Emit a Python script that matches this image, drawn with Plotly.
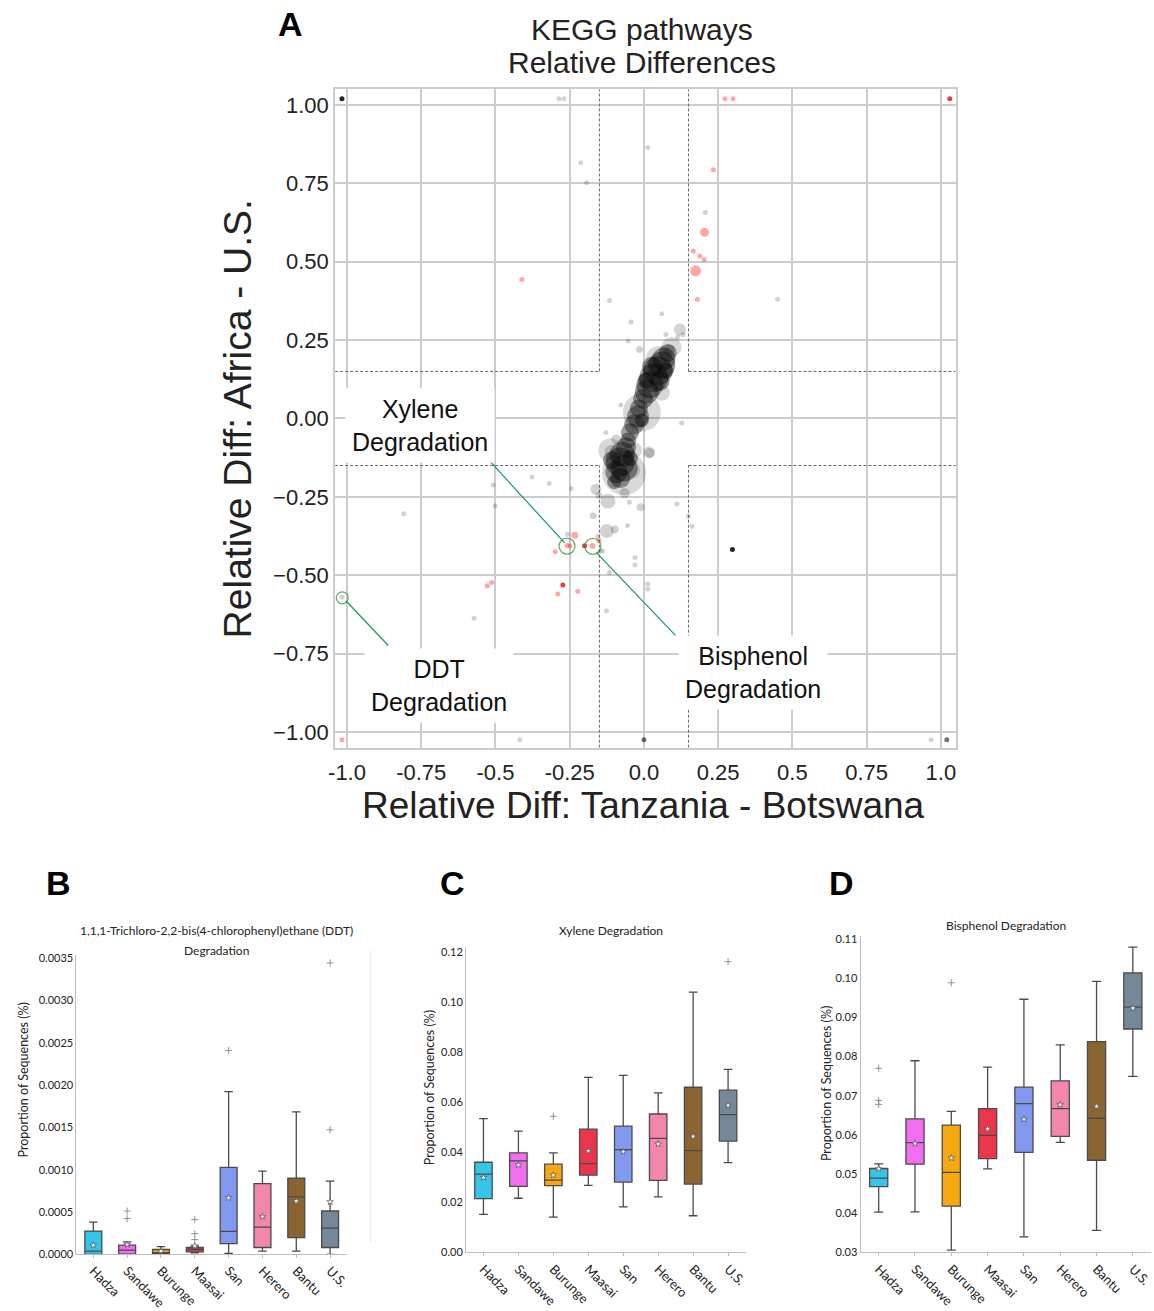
import plotly.graph_objects as go

# ---------------- Panel A data (KEGG pathways relative differences) ----------------
# dense core of pathways (translucent black)
core_x = [0.080, 0.067, 0.060, 0.047, 0.033, 0.020, 0.010, -0.003, 0.053, 0.027, 0.073, 0.007,
          -0.017, -0.020, -0.033, -0.047, -0.053, -0.007,
          -0.060, -0.073, -0.080, -0.067, -0.093, -0.080, -0.107, -0.047, -0.100]
core_y = [0.209, 0.190, 0.171, 0.152, 0.130, 0.108, 0.085, 0.063, 0.120, 0.165, 0.152, 0.120,
          0.032, 0.006, -0.019, -0.044, -0.070, -0.006,
          -0.092, -0.114, -0.139, -0.158, -0.171, -0.190, -0.133, -0.127, -0.203]
core_s = [18, 23, 27, 29, 29, 27, 24, 20, 20, 20, 16, 16,
          18, 22, 20, 18, 16, 14,
          20, 25, 29, 27, 22, 20, 18, 16, 14]

# lighter halo bubbles around the core
halo_x = [0.093, -0.007, -0.067, -0.113, 0.060, -0.033, 0.017, -0.040, 0.050]
halo_y = [0.228, 0.019, -0.174, -0.101, 0.082, -0.101, -0.108, -0.165, 0.190]
halo_s = [20, 38, 44, 24, 16, 16, 12, 16, 26]

# non-significant pathways (grey)
grey_x = [-0.286, -0.269, -0.213, -0.193, 0.013, 0.207, 0.450, -0.116, -0.043, 0.060, -0.053, -0.015,
          0.074, 0.121, 0.114, 0.132, 0.086, -0.078, 0.127, -0.128, -0.093, 0.019, -0.109,
          -0.377, -0.508, -0.319, -0.245, -0.501, -0.162, -0.151, -0.121, -0.065, -0.049, -0.011,
          0.111, 0.150, 0.162, -0.171, -0.055, -0.125, -0.098, -0.257, -0.155, -0.139, -0.148,
          -0.030, -0.030, -0.116, 0.013, 0.013, -0.126, -0.572, -0.809, -1.017, -0.418, 0.967]
grey_y = [1.020, 1.020, 0.816, 0.752, 0.864, 0.657, 0.380, 0.376, 0.308, 0.334, 0.247, 0.220,
          0.268, 0.284, 0.260, 0.267, 0.220, 0.043, -0.014, -0.045, -0.067, -0.110, -0.107,
          -0.187, -0.212, -0.207, -0.223, -0.279, -0.226, -0.246, -0.264, -0.238, -0.267, -0.283,
          -0.273, -0.312, -0.344, -0.310, -0.341, -0.359, -0.354, -0.369, -0.376, -0.423, -0.423,
          -0.443, -0.467, -0.491, -0.528, -0.544, -0.613, -0.637, -0.304, -0.570, -1.025, -1.025]
grey_s = [5, 5, 5, 5, 5, 5, 5, 5, 5, 5, 5, 7,
          5, 12, 5, 5, 10, 5, 5, 5, 10, 10, 14,
          5, 5, 5, 5, 5, 11, 7, 15, 10, 5, 8,
          5, 5, 5, 7, 5, 14, 8, 5, 5, 5, 5,
          5, 5, 5, 5, 5, 5, 5, 5, 5, 5, 5]

dgrey_x = [0.000, 1.020]
dgrey_y = [-1.025, -1.025]

black_x = [-1.017, 0.298]
black_y = [1.020, -0.418]

# significant pathways (red)
red_x = [0.273, 0.300, 0.234, 0.204, 0.166, 0.188, 0.203, 0.174, 0.180, -0.411, -0.233, -0.151,
         -0.259, -0.249, -0.173, -0.299, -0.513, -0.528, -0.290, -0.223, -1.017]
red_y = [1.020, 1.020, 0.793, 0.594, 0.534, 0.518, 0.507, 0.471, 0.380, 0.443, -0.372, -0.390,
         -0.405, -0.407, -0.407, -0.425, -0.523, -0.534, -0.560, -0.551, -1.025]
red_s = [5, 5, 5, 9, 5, 5, 5, 11, 5, 5, 7, 5,
         5, 5, 6, 5, 5, 5, 5, 5, 5]

dred_x = [1.030, -0.200, -0.273]
dred_y = [1.020, -0.406, -0.531]

# highlighted pathways
hl_names = ["Xylene<br>Degradation", "Bisphenol<br>Degradation", "DDT<br>Degradation"]
hl_x = [-0.259, -0.172, -1.016]
hl_y = [-0.407, -0.408, -0.572]
hl_ring = [16, 16, 12]
label_x = [-0.755, 0.367, -0.690]
label_y = [-0.022, -0.810, -0.851]
leader_x0 = [-0.520, -0.160, -1.003]
leader_y0 = [-0.135, -0.428, -0.582]
leader_x1 = [-0.267, 0.106, -0.861]
leader_y1 = [-0.397, -0.692, -0.724]

threshold = 0.15
a_ticks = [-1.0, -0.75, -0.5, -0.25, 0.0, 0.25, 0.5, 0.75, 1.0]
a_xticktext = ["-1.0", "-0.75", "-0.5", "-0.25", "0.0", "0.25", "0.5", "0.75", "1.0"]
a_yticktext = ["\u22121.00", "\u22120.75", "\u22120.50", "\u22120.25", "0.00", "0.25", "0.50", "0.75", "1.00"]

# ---------------- Panels B-D data (box plots) ----------------
groups = ["Hadza", "Sandawe", "Burunge", "Maasai", "San", "Herero", "Bantu", "U.S."]
group_colors = ["#36C5E9", "#F36DF1", "#F7A710", "#E9364B", "#8199EF", "#F286AD", "#8A6532", "#778899"]

ddt_q1 = [0.0, 0.000004, 0.000004, 0.000031, 0.000128, 0.000082, 0.000198, 0.000082]
ddt_med = [0.000039, 0.00005, 0.00002, 0.000058, 0.000272, 0.000323, 0.000681, 0.000311]
ddt_q3 = [0.000276, 0.000109, 0.000058, 0.000082, 0.00103, 0.000836, 0.000902, 0.000513]
ddt_lo = [0.0, 0.0, 0.0, 0.00002, 0.000012, 0.000039, 0.000039, 0.0]
ddt_hi = [0.000381, 0.000148, 0.000093, 0.0001, 0.001925, 0.000984, 0.001684, 0.000867]
ddt_mean = [0.000109, 0.000117, 0.00004, 0.000100, 0.000669, 0.000447, 0.00063, 0.000622]
ddt_out_g = ["Sandawe", "Sandawe", "Maasai", "Maasai", "Maasai", "San", "U.S.", "U.S."]
ddt_out_v = [0.000513, 0.000424, 0.000412, 0.000245, 0.000175, 0.002411, 0.001474, 0.003446]

xyl_q1 = [0.0215, 0.02637, 0.02664, 0.03086, 0.02809, 0.02875, 0.0273, 0.04444]
xyl_med = [0.03125, 0.03653, 0.02888, 0.03547, 0.04101, 0.04549, 0.04062, 0.05499]
xyl_q3 = [0.036, 0.0397, 0.03521, 0.04919, 0.05037, 0.05525, 0.06593, 0.06475]
xyl_lo = [0.01516, 0.02163, 0.01411, 0.02677, 0.0182, 0.02215, 0.01464, 0.03587]
xyl_hi = [0.0534, 0.0484, 0.0397, 0.06989, 0.07068, 0.06369, 0.1039, 0.07305]
xyl_mean = [0.0299, 0.0349, 0.03086, 0.04048, 0.04022, 0.04325, 0.04629, 0.05868]
xyl_out_g = ["Burunge", "U.S."]
xyl_out_v = [0.05433, 0.11604]

bis_q1 = [0.04678, 0.05251, 0.0418, 0.05395, 0.05555, 0.0596, 0.05352, 0.087]
bis_med = [0.04897, 0.058, 0.0504, 0.05985, 0.06794, 0.06668, 0.06423, 0.09256]
bis_q3 = [0.05142, 0.06406, 0.06246, 0.06668, 0.07216, 0.07376, 0.08379, 0.10133]
bis_lo = [0.04029, 0.04037, 0.03059, 0.05133, 0.03396, 0.05808, 0.03565, 0.07494]
bis_hi = [0.0526, 0.0789, 0.066, 0.0773, 0.09459, 0.08295, 0.09914, 0.10791]
bis_mean = [0.05133, 0.05782, 0.05411, 0.06153, 0.06398, 0.06769, 0.06727, 0.09231]
bis_out_g = ["Hadza", "Hadza", "Hadza", "Burunge"]
bis_out_v = [0.07696, 0.06879, 0.06777, 0.0988]

# ---------------- Figure ----------------
FONT_A = "Liberation Sans, Arial, sans-serif"
FONT_B = "Lato, Open Sans, sans-serif"

fig = go.Figure()

def sc(x, y, s, color):
    fig.add_trace(go.Scatter(x=x, y=y, mode="markers", xaxis="x", yaxis="y", hoverinfo="skip",
                             marker=dict(size=s, color=color, line=dict(width=0))))

sc(halo_x, halo_y, halo_s, "rgba(0,0,0,0.22)")
sc(core_x, core_y, core_s, "rgba(0,0,0,0.55)")
sc(grey_x, grey_y, grey_s, "rgba(0,0,0,0.25)")
sc(dgrey_x, dgrey_y, 5, "rgba(0,0,0,0.55)")
sc(black_x, black_y, 5, "rgba(0,0,0,0.85)")
sc(red_x, red_y, red_s, "rgba(255,0,0,0.5)")
sc(dred_x, dred_y, 5, "rgba(215,0,0,0.75)")
fig.add_trace(go.Scatter(x=hl_x, y=hl_y, mode="markers", xaxis="x", yaxis="y", hoverinfo="skip",
                         marker=dict(symbol="circle-open", size=hl_ring, color="#2a8a2a",
                                     line=dict(width=1.3, color="#2a8a2a"))))

shapes = []
dash_style = dict(color="#666666", width=1, dash="3px,2px")
segs = [(-threshold, threshold, -threshold, 1.05), (threshold, threshold, threshold, 1.05),
        (-1.04, threshold, -threshold, threshold), (threshold, threshold, 1.05, threshold),
        (-1.04, -threshold, -threshold, -threshold), (threshold, -threshold, 1.05, -threshold),
        (-threshold, -1.05, -threshold, -threshold), (threshold, -1.05, threshold, -threshold)]
for x0, y0, x1, y1 in segs:
    shapes.append(dict(type="line", xref="x", yref="y", x0=x0, y0=y0, x1=x1, y1=y1,
                       line=dash_style, layer="between"))
for i in range(len(hl_x)):
    shapes.append(dict(type="line", xref="x", yref="y", x0=leader_x0[i], y0=leader_y0[i],
                       x1=leader_x1[i], y1=leader_y1[i], line=dict(color="#169a5c", width=1.2)))
# faint frame line right of panel B
shapes.append(dict(type="line", xref="paper", yref="paper", x0=0.318, x1=0.318, y0=0.048, y1=0.2716,
                   line=dict(color="#e3e3e3", width=1)))

annotations = []
for i in range(len(hl_x)):
    annotations.append(dict(x=label_x[i], y=label_y[i], xref="x", yref="y", text=hl_names[i],
                            showarrow=False, bgcolor="white", borderpad=6,
                            font=dict(family=FONT_A, size=25, color="#111")))

def pa(text, x, y, size, family=FONT_A, bold=False, angle=0, color="#111"):
    annotations.append(dict(x=x, y=y, xref="paper", yref="paper", text=("<b>%s</b>" % text) if bold else text,
                            showarrow=False, textangle=angle, xanchor="center", yanchor="middle",
                            font=dict(family=family, size=size, color=color)))

pa("KEGG pathways", 0.5555, 0.9801, 30, color="#222")
pa("Relative Differences", 0.5555, 0.9549, 30, color="#222")
pa("Relative Diff: Tanzania - Botswana", 0.5563, 0.3837, 37, color="#222")
pa("Relative Diff: Africa - U.S.", 0.2010, 0.6812, 39, angle=-90, color="#222")
pa("A", 0.2478, 0.9847, 34, family="Liberation Sans, Arial", bold=True, color="#000")
pa("B", 0.0451, 0.3242, 34, family="Liberation Sans, Arial", bold=True, color="#000")
pa("C", 0.3891, 0.3242, 34, family="Liberation Sans, Arial", bold=True, color="#000")
pa("D", 0.7296, 0.3242, 34, family="Liberation Sans, Arial", bold=True, color="#000")

pa("1,1,1-Trichloro-2,2-bis(4-chlorophenyl)ethane (DDT)", 0.1828, 0.2876, 12, family=FONT_B, color="#222")
pa("Degradation", 0.1828, 0.2723, 12, family=FONT_B, color="#222")
pa("Xylene Degradation", 0.5277, 0.2876, 12, family=FONT_B, color="#222")
pa("Bisphenol Degradation", 0.8735, 0.2914, 12, family=FONT_B, color="#222")
pa("Proportion of Sequences (%)", 0.0147, 0.1726, 12.5, family=FONT_B, angle=-90, color="#222")
pa("Proportion of Sequences (%)", 0.3700, 0.1662, 12.5, family=FONT_B, angle=-90, color="#222")
pa("Proportion of Sequences (%)", 0.7169, 0.1693, 12.5, family=FONT_B, angle=-90, color="#222")

panels = [
    ("x2", "y2", ddt_q1, ddt_med, ddt_q3, ddt_lo, ddt_hi, ddt_mean, ddt_out_g, ddt_out_v),
    ("x3", "y3", xyl_q1, xyl_med, xyl_q3, xyl_lo, xyl_hi, xyl_mean, xyl_out_g, xyl_out_v),
    ("x4", "y4", bis_q1, bis_med, bis_q3, bis_lo, bis_hi, bis_mean, bis_out_g, bis_out_v),
]
for xa, ya, q1, med, q3, lo, hi, mean, og, ov in panels:
    for i, g in enumerate(groups):
        fig.add_trace(go.Box(x=[g], q1=[q1[i]], median=[med[i]], q3=[q3[i]],
                             lowerfence=[lo[i]], upperfence=[hi[i]], xaxis=xa, yaxis=ya,
                             fillcolor=group_colors[i], line=dict(color="#4a4a4a", width=1.3),
                             width=0.5, whiskerwidth=0.5, boxpoints=False, hoverinfo="skip"))
    fig.add_trace(go.Scatter(x=groups, y=mean, mode="markers", xaxis=xa, yaxis=ya, hoverinfo="skip",
                             marker=dict(symbol="star", size=5, color="white",
                                         line=dict(width=0.7, color="#555"))))
    fig.add_trace(go.Scatter(x=og, y=ov, mode="markers", xaxis=xa, yaxis=ya, hoverinfo="skip",
                             marker=dict(symbol="cross-thin", size=5, color="#777",
                                         line=dict(width=0.8, color="#777"))))

axA = dict(showgrid=True, gridcolor="#cccccc", gridwidth=2, zeroline=False, showline=True,
           linecolor="#cccccc", linewidth=2, mirror=True, ticks="",
           tickfont=dict(family=FONT_A, size=22, color="#222"), tickvals=a_ticks)

def box_x(domain):
    return dict(domain=domain, type="category", categoryorder="array", categoryarray=groups,
                range=[-0.5, 7.5], showgrid=False, zeroline=False, showline=True, linecolor="#bdbdbd",
                linewidth=1, ticks="outside", ticklen=3, tickcolor="#bdbdbd", tickangle=45,
                tickfont=dict(family=FONT_B, size=13, color="#222"))

def box_y(domain, rng, fmt, dtick, anchor):
    return dict(domain=domain, range=rng, showgrid=False, zeroline=False, showline=True,
                linecolor="#bdbdbd", linewidth=1, ticks="", tickformat=fmt, dtick=dtick,
                tick0=0, anchor=anchor, tickfont=dict(family=FONT_B, size=11, color="#222"))

fig.update_layout(
    width=1154, height=1311, margin=dict(l=0, r=0, t=0, b=0),
    paper_bgcolor="white", plot_bgcolor="white", showlegend=False,
    xaxis=dict(axA, domain=[0.28683, 0.82929], range=[-1.04, 1.05], ticktext=a_xticktext, anchor="y",
               ticklabelstandoff=4),
    yaxis=dict(axA, domain=[0.42792, 0.9344], range=[-1.05, 1.05], ticktext=a_yticktext, anchor="x"),
    xaxis2=dict(box_x([0.06066, 0.29723]), anchor="y2"),
    yaxis2=box_y([0.03814, 0.2685], [0, 0.00354], ".4f", 0.0005, "x2"),
    xaxis3=dict(box_x([0.40121, 0.64558]), anchor="y3"),
    yaxis3=box_y([0.03966, 0.27483], [0, 0.122], ".2f", 0.02, "x3"),
    xaxis4=dict(box_x([0.74610, 1.0]), anchor="y4"),
    yaxis4=box_y([0.03966, 0.28299], [0.03, 0.1107], ".2f", 0.01, "x4"),
    shapes=shapes, annotations=annotations,
)

fig.write_html("out.html")
